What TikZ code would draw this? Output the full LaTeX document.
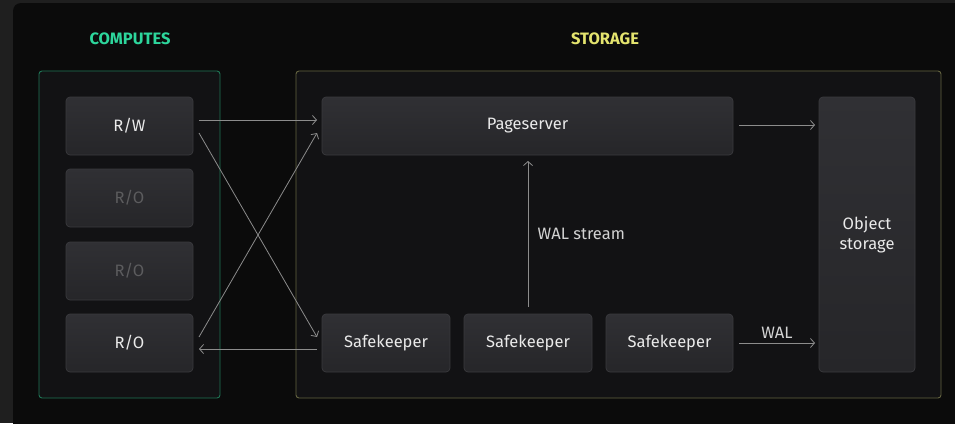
\documentclass[tikz,border=0pt]{standalone}
\usepackage{fontspec}
\setmainfont{Fira Sans}
\usetikzlibrary{arrows.meta}
\definecolor{outerbg}{HTML}{1F1F1F}
\definecolor{panelbg}{HTML}{0B0B0B}
\definecolor{groupbg}{HTML}{121214}
\definecolor{boxtop}{HTML}{303034}
\definecolor{boxbot}{HTML}{262629}
\definecolor{boxline}{HTML}{3A3A3E}
\definecolor{greenline}{HTML}{1F7555}
\definecolor{yellowline}{HTML}{636340}
\definecolor{greentext}{HTML}{2DD69C}
\definecolor{yellowtext}{HTML}{E4E46E}
\definecolor{arrowcol}{HTML}{8C8C8C}
\definecolor{maintext}{HTML}{EAEAEA}
\definecolor{fadetext}{HTML}{5C5C5E}
\begin{document}
\begin{tikzpicture}[x=1pt,y=-1pt,
  groupbox/.style={rounded corners=3pt,line width=0.9pt,fill=groupbg},
  compbox/.style={draw=boxline,line width=0.7pt,top color=boxtop,bottom color=boxbot,rounded corners=4pt,inner sep=0pt,
    text=maintext,font=\fontsize{16.5}{20}\selectfont,align=center},
  title/.style={font=\fontsize{16.5}{18}\selectfont\bfseries},
  conn/.style={draw=arrowcol,line width=0.8pt,-{Straight Barb[length=4pt,width=9pt,line width=0.8pt]}},
  lbl/.style={text=maintext!90!black,font=\fontsize{16.5}{20}\selectfont}]
\useasboundingbox (0,0) rectangle (955,423);
\fill[outerbg] (0,0) rectangle (955,423);
\fill[panelbg,rounded corners=8pt] (13,3) rectangle (975,440);
% groups
\draw[groupbox,draw=greenline] (39,71) rectangle (220,398);
\draw[groupbox,draw=yellowline] (296,71) rectangle (941,398);
\node[title,text=greentext] (tc) at (130,39) {COMPUTES};
\node[title,text=yellowtext] (ts) at (605,39) {STORAGE};
% compute nodes
\node[compbox,minimum width=127pt,minimum height=58pt] (rw) at (129.5,126) {R/W};
\node[compbox,minimum width=127pt,minimum height=58pt,text=fadetext] (ro1) at (129.5,198) {R/O};
\node[compbox,minimum width=127pt,minimum height=58pt,text=fadetext] (ro2) at (129.5,271) {R/O};
\node[compbox,minimum width=127pt,minimum height=58pt] (ro3) at (129.5,343) {R/O};
% storage nodes
\node[compbox,minimum width=411pt,minimum height=58pt] (ps) at (527.5,126) {Pageserver};
\node[compbox,minimum width=128pt,minimum height=58pt] (sk1) at (386,343) {Safekeeper};
\node[compbox,minimum width=128pt,minimum height=58pt] (sk2) at (528,343) {Safekeeper};
\node[compbox,minimum width=127pt,minimum height=58pt] (sk3) at (669.5,343) {Safekeeper};
\node[compbox,minimum width=96pt,minimum height=275pt] (os) at (867,234.5) {Object\\storage};
% helper coordinates
\coordinate (rwA) at (199,120);
\coordinate (psA) at (317,120);
\coordinate (rwB) at (199,133);
\coordinate (skA) at (317,337);
\coordinate (roA) at (199,337);
\coordinate (psB) at (317,133);
\coordinate (skB) at (317,349);
\coordinate (roB) at (199,349);
\coordinate (psC) at (739,125);
\coordinate (osA) at (815,125);
\coordinate (skC) at (739,343);
\coordinate (osB) at (815,343);
\coordinate (skD) at (528,307);
\coordinate (psD) at (528,161);
% connectors
\draw[conn] (rwA) -- (psA);
\draw[conn] (rwB) -- (skA);
\draw[conn] (roA) -- (psB);
\draw[conn] (skB) -- (roB);
\draw[conn] (psC) -- (osA);
\draw[conn] (skC) -- node[lbl,above=1pt] (wal) {WAL} (osB);
\draw[conn] (skD) -- node[lbl,right=6pt] (wals) {WAL stream} (psD);
\end{tikzpicture}
\end{document}
